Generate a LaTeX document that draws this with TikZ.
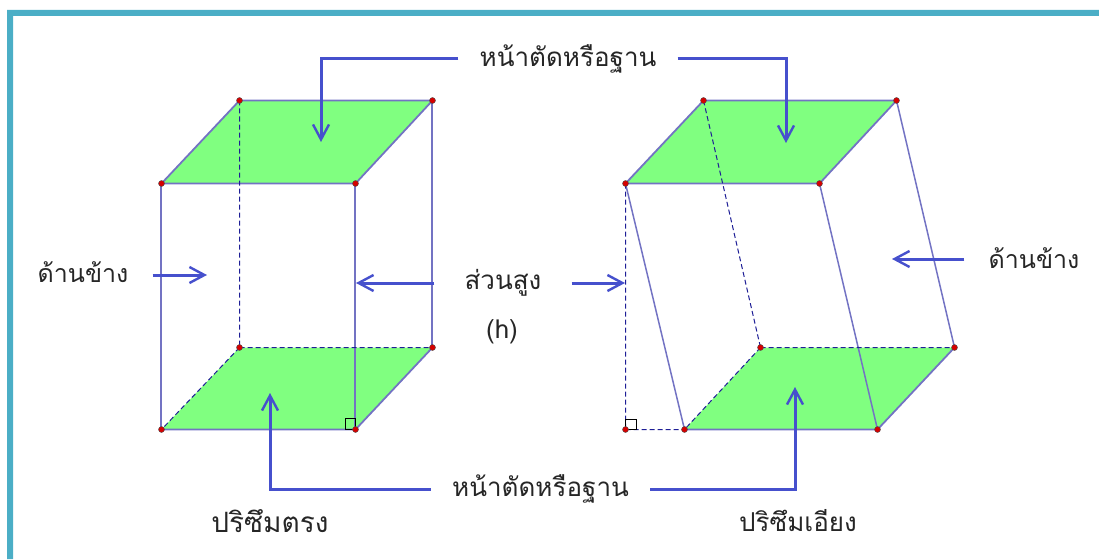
\documentclass[tikz,border=0pt]{standalone}
\usepackage{fontspec}
\newfontfamily\thaifont[Script=Thai]{Loma}
\usetikzlibrary{arrows.meta}
\definecolor{framecol}{RGB}{75,174,198}
\definecolor{basecol}{RGB}{128,255,128}
\definecolor{edgecol}{RGB}{115,115,195}
\definecolor{dashcol}{RGB}{30,30,150}
\definecolor{arrowcol}{RGB}{70,80,205}
\definecolor{dotcol}{RGB}{214,0,0}
\tikzset{
  lbl/.style={font=\thaifont\fontsize{26}{30}\selectfont, text=black!85, inner sep=0pt},
  edge/.style={draw=edgecol, line width=1.8pt},
  upright/.style={draw=edgecol, line width=1.3pt},
  hidden/.style={draw=dashcol, line width=1pt, dash pattern=on 5pt off 3pt},
  base/.style={fill=basecol},
  pointer/.style={draw=arrowcol, line width=3pt, -{Straight Barb[length=15pt,width=16pt,line width=2.4pt]}},
  dot/.style={circle, fill=dotcol, draw=black!70, line width=.4pt, inner sep=0pt, minimum size=6pt}
}
\begin{document}
\begin{tikzpicture}[x=1pt,y=-1pt]
\useasboundingbox (0,0) rectangle (1099,559);
% frame
\fill[framecol] (7,559) -- (7,10) -- (1099,10) -- (1099,16) -- (13,16) -- (13,559) -- cycle;
\begin{scope}[shift={(.5,.5)}]
% straight prism
\coordinate (A) at (161,183); \coordinate (B) at (355,183);
\coordinate (C) at (432,100); \coordinate (D) at (239,100);
\coordinate (E) at (161,429); \coordinate (F) at (355,429);
\coordinate (G) at (432,347); \coordinate (H) at (239,347);
\path[base] (A) -- (B) -- (C) -- (D) -- cycle;
\path[base] (E) -- (F) -- (G) -- (H) -- cycle;
\draw[edge] (A) -- (B) -- (C) -- (D) -- cycle;
\draw[edge] (E) -- (F) -- (G);
\draw[upright] ([xshift=-.5pt]A) -- ([xshift=-.5pt]E) ([xshift=-.5pt]B) -- ([xshift=-.5pt]F) ([xshift=-.5pt]C) -- ([xshift=-.5pt]G);
\draw[hidden] (D) -- (H) (H) -- (G) (H) -- (E);
\draw[black, line width=.9pt] (344.5,429) -- (344.5,417.5) -- (355,417.5) -- (355,429) -- cycle;
% oblique prism
\coordinate (a) at (625,183); \coordinate (b) at (819,183);
\coordinate (c) at (896,100); \coordinate (d) at (703,100);
\coordinate (e) at (684,429); \coordinate (f) at (877,429);
\coordinate (g) at (954,347); \coordinate (h) at (760,347);
\coordinate (k) at (625,429);
\path[base] (a) -- (b) -- (c) -- (d) -- cycle;
\path[base] (e) -- (f) -- (g) -- (h) -- cycle;
\draw[edge] (a) -- (b) -- (c) -- (d) -- cycle;
\draw[edge] (e) -- (f) -- (g);
\draw[edge, line width=1.5pt] (a) -- (e) (b) -- (f) (c) -- (g);
\draw[hidden] (d) -- (h) (h) -- (g) (h) -- (e) (a) -- (k) (k) -- (e);
\draw[black, line width=.9pt] (625,429) -- (625,418.5) -- (635.5,418.5) -- (635.5,429) -- cycle;
\foreach \p in {A,B,C,D,E,F,G,H,a,b,c,d,e,f,g,h,k}
  \node[dot] at (\p) {};
\end{scope}
% labels
\node[lbl, inner xsep=21pt] (basetop) at (568,59) {\thaifont หน้าตัดหรือฐาน};
\node[lbl, inner xsep=21pt] (basebot) at (540.5,489) {\thaifont หน้าตัดหรือฐาน};
\node[lbl, inner xsep=24pt, font=\thaifont\fontsize{25}{30}\selectfont] (sideL) at (83,272) {\thaifont ด้านข้าง};
\node[lbl, inner xsep=24pt, font=\thaifont\fontsize{25}{30}\selectfont] (sideR) at (1034,258) {\thaifont ด้านข้าง};
\node[lbl, inner xsep=30pt] (height) at (503,283) {\thaifont ส่วนสูง};
\node[lbl] (hsym) at (502,332) {\thaifont (h)};
\node[lbl, font=\thaifont\fontsize{28}{30}\selectfont] (nameL) at (270,521) {\thaifont ปริซึมตรง};
\node[lbl] (nameR) at (798,521) {\thaifont ปริซึมเอียง};
% pointers
\coordinate (tL) at (321,142); \coordinate (tR) at (786,143);
\coordinate (bL) at (270,393); \coordinate (bR) at (795,387);
\coordinate (sL) at (207,275); \coordinate (sR) at (892,259);
\coordinate (hL) at (356,283); \coordinate (hR) at (625,283);
\draw[pointer] (basetop.west) -| (tL);
\draw[pointer] (basetop.east) -| (tR);
\draw[pointer] (basebot.west) -| (bL);
\draw[pointer] (basebot.east) -| (bR);
\draw[pointer] (sideL.east |- sL) -- (sL);
\draw[pointer] (sideR.west |- sR) -- (sR);
\draw[pointer] (height.west) -- (hL);
\draw[pointer] (height.east) -- (hR);
\end{tikzpicture}
\end{document}
